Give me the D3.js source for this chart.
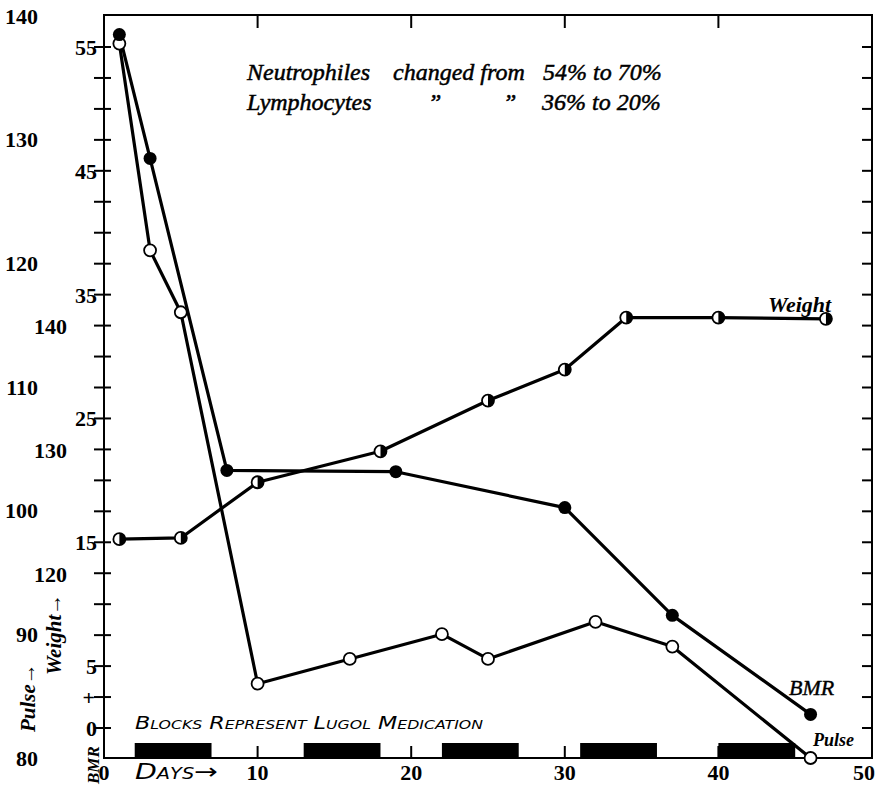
<!DOCTYPE html>
<html>
<head>
<meta charset="utf-8">
<script src="https://cdn.jsdelivr.net/npm/d3@7/dist/d3.min.js"></script>
<style>
  html, body { margin: 0; padding: 0; background: #fff; }
  svg { display: block; }
  .num { font-family: "Liberation Serif", serif; font-weight: bold; font-size: 22px; fill: #000; }
  .ital { font-family: "Liberation Serif", serif; font-style: italic; fill: #000; }
</style>
</head>
<body>
<svg id="chart" width="879" height="786"></svg>
<script>
// ---- Data ----
const bmrDays     = [1, 3, 8, 19, 30, 37, 46];
const bmrValues   = [56, 46, 20.8, 20.7, 17.8, 9.1, 1.1];

const pulseDays   = [1, 3, 5, 10, 16, 22, 25, 32, 37, 46];
const pulseValues = [137.7, 121, 116, 86, 88, 90, 88, 91, 89, 80];

const weightDays   = [1, 5, 10, 18, 25, 30, 34, 40, 47];
const weightValues = [122.7, 122.8, 127.3, 129.8, 133.9, 136.4, 140.6, 140.6, 140.5];

const lugolStart = [2, 13, 22, 31, 40];
const lugolEnd   = [7, 18, 27, 36, 45];

const xTickValues      = [0, 10, 20, 30, 40, 50];
const xTickMarks       = [10, 20, 30, 40];
const bmrTickLabels    = [0, 5, 15, 25, 35, 45, 55];
const pulseTickLabels  = [80, 90, 100, 110, 120, 130, 140];
const weightTickLabels = [120, 130, 140];
const minorTicks = d3.range(0, 55.01, 2.5);

// ---- Layout ----
const svg = d3.select("#chart");
const L = 104, R = 872, T = 15, B = 758;

const x = d3.scaleLinear().domain([0, 50]).range([L, R]);
const yBmr = d3.scaleLinear().domain([0, 55]).range([728, 47]);
const pxPerUnit = (728 - 47) / 55;
const yPulse = d3.scaleLinear().domain([80, 140]).range([B, B - 60 * pxPerUnit]);
const yWeight = d3.scaleLinear().domain([110, 140]).range([325 + 30 * pxPerUnit, 325]);

// frame
svg.append("rect").attr("x", L).attr("y", T).attr("width", R - L).attr("height", B - T)
  .attr("fill", "none").attr("stroke", "#000").attr("stroke-width", 2);

// left ticks (crossing axis)
svg.append("g").selectAll("line").data(minorTicks).join("line")
  .attr("x1", L - 10).attr("x2", L + 7)
  .attr("y1", d => yBmr(d)).attr("y2", d => yBmr(d))
  .attr("stroke", "#000").attr("stroke-width", 2);

// right ticks (inside)
svg.append("g").selectAll("line").data(minorTicks).join("line")
  .attr("x1", R - 10).attr("x2", R)
  .attr("y1", d => yBmr(d)).attr("y2", d => yBmr(d))
  .attr("stroke", "#000").attr("stroke-width", 2);

// top & bottom ticks
svg.append("g").selectAll("line").data(xTickMarks).join("line")
  .attr("x1", d => x(d)).attr("x2", d => x(d))
  .attr("y1", T).attr("y2", T + 13)
  .attr("stroke", "#000").attr("stroke-width", 2);
svg.append("g").selectAll("line").data(xTickMarks).join("line")
  .attr("x1", d => x(d)).attr("x2", d => x(d))
  .attr("y1", B).attr("y2", B - 12)
  .attr("stroke", "#000").attr("stroke-width", 2);

// Lugol blocks
svg.append("g").selectAll("rect").data(lugolStart).join("rect")
  .attr("x", (d) => x(d))
  .attr("width", (d, i) => x(lugolEnd[i]) - x(d))
  .attr("y", B - 15).attr("height", 15)
  .attr("fill", "#000");

// x tick labels
svg.append("g").selectAll("text").data(xTickValues).join("text")
  .attr("class", "num")
  .attr("x", d => d === 50 ? x(d) - 8 : x(d))
  .attr("y", 780)
  .attr("text-anchor", "middle")
  .text(d => d);

// BMR labels
svg.append("g").selectAll("text").data(bmrTickLabels).join("text")
  .attr("class", "num")
  .attr("x", 97)
  .attr("y", d => yBmr(d) + 8)
  .attr("text-anchor", "end")
  .text(d => d);
svg.append("text").attr("class", "num").attr("x", 95).attr("y", yBmr(2.5) + 8)
  .attr("text-anchor", "end").text("+");

// Pulse labels
svg.append("g").selectAll("text").data(pulseTickLabels).join("text")
  .attr("class", "num")
  .attr("x", 38)
  .attr("y", d => Math.max(yPulse(d) + 8, 24))
  .attr("text-anchor", "end")
  .text(d => d);

// Weight labels
svg.append("g").selectAll("text").data(weightTickLabels).join("text")
  .attr("class", "num")
  .attr("x", 67)
  .attr("y", d => yWeight(d) + 9)
  .attr("text-anchor", "end")
  .text(d => d);

// rotated axis titles
svg.append("text").attr("class", "ital").attr("font-size", 21).attr("font-weight", "bold")
  .attr("transform", "translate(35,732) rotate(-90)")
  .text("Pulse\u2192");
svg.append("text").attr("class", "ital").attr("font-size", 21).attr("font-weight", "bold")
  .attr("transform", "translate(61,675) rotate(-90)")
  .text("Weight\u2192");
svg.append("text").attr("class", "ital").attr("font-size", 17).attr("font-weight", "bold")
  .attr("transform", "translate(99,784) rotate(-90)")
  .text("BMR");

// ---- Series lines ----
const lineBmr = d3.line().x((d, i) => x(bmrDays[i])).y(d => yBmr(d));
const linePulse = d3.line().x((d, i) => x(pulseDays[i])).y(d => yPulse(d));
const lineWeight = d3.line().x((d, i) => x(weightDays[i])).y(d => yWeight(d));

svg.append("path").attr("d", linePulse(pulseValues))
  .attr("fill", "none").attr("stroke", "#000").attr("stroke-width", 3.2).attr("stroke-linejoin", "round");
svg.append("path").attr("d", lineBmr(bmrValues))
  .attr("fill", "none").attr("stroke", "#000").attr("stroke-width", 3.2).attr("stroke-linejoin", "round");
svg.append("path").attr("d", lineWeight(weightValues))
  .attr("fill", "none").attr("stroke", "#000").attr("stroke-width", 3.2).attr("stroke-linejoin", "round");

// pulse: open circles
svg.append("g").selectAll("circle").data(pulseValues).join("circle")
  .attr("cx", (d, i) => x(pulseDays[i])).attr("cy", d => yPulse(d))
  .attr("r", 6).attr("fill", "#fff").attr("stroke", "#000").attr("stroke-width", 1.8);

// bmr: filled circles
svg.append("g").selectAll("circle").data(bmrValues).join("circle")
  .attr("cx", (d, i) => x(bmrDays[i])).attr("cy", d => yBmr(d))
  .attr("r", 6.5).attr("fill", "#000");

// weight: half-filled circles
const half = d3.arc().innerRadius(0).outerRadius(6).startAngle(0).endAngle(Math.PI);
const wg = svg.append("g").selectAll("g").data(weightValues).join("g")
  .attr("transform", (d, i) => `translate(${x(weightDays[i])},${yWeight(d)})`);
wg.append("circle").attr("r", 6).attr("fill", "#fff").attr("stroke", "#000").attr("stroke-width", 1.8);
wg.append("path").attr("d", half()).attr("fill", "#000");

// ---- Annotations ----
const ann = svg.append("g").attr("class", "ital").attr("font-size", 24)
  .attr("stroke", "#000").attr("stroke-width", 0.5);
ann.append("text").attr("x", 247).attr("y", 80).text("Neutrophiles");
ann.append("text").attr("x", 393).attr("y", 80).text("changed from");
ann.append("text").attr("x", 543).attr("y", 80).text("54% to 70%");
ann.append("text").attr("x", 247).attr("y", 110).text("Lymphocytes");
ann.append("text").attr("x", 428).attr("y", 110).text("\u201D");
ann.append("text").attr("x", 503).attr("y", 110).text("\u201D");
ann.append("text").attr("x", 542).attr("y", 110).text("36% to 20%");

// series labels
svg.append("text").attr("class", "ital").attr("font-size", 22).attr("font-weight", "bold")
  .attr("x", 768).attr("y", 312).text("Weight");
svg.append("text").attr("class", "ital").attr("font-size", 22)
  .attr("stroke", "#000").attr("stroke-width", 0.4)
  .attr("x", 789).attr("y", 695).text("BMR");
svg.append("text").attr("class", "ital").attr("font-size", 18).attr("font-weight", "bold")
  .attr("x", 813).attr("y", 746).text("Pulse");

// block legend & days label
svg.append("text").attr("font-family", "'DejaVu Sans', sans-serif").attr("font-style", "italic")
  .attr("font-size", 17).attr("font-variant", "small-caps")
  .attr("x", 135).attr("y", 729).attr("textLength", 348).attr("lengthAdjust", "spacingAndGlyphs")
  .text("Blocks Represent Lugol Medication");
svg.append("text").attr("font-family", "'DejaVu Sans', sans-serif").attr("font-style", "italic")
  .attr("font-size", 22).attr("font-variant", "small-caps")
  .attr("x", 135).attr("y", 779).attr("textLength", 83).attr("lengthAdjust", "spacingAndGlyphs")
  .text("Days\u2192");
</script>
</body>
</html>
